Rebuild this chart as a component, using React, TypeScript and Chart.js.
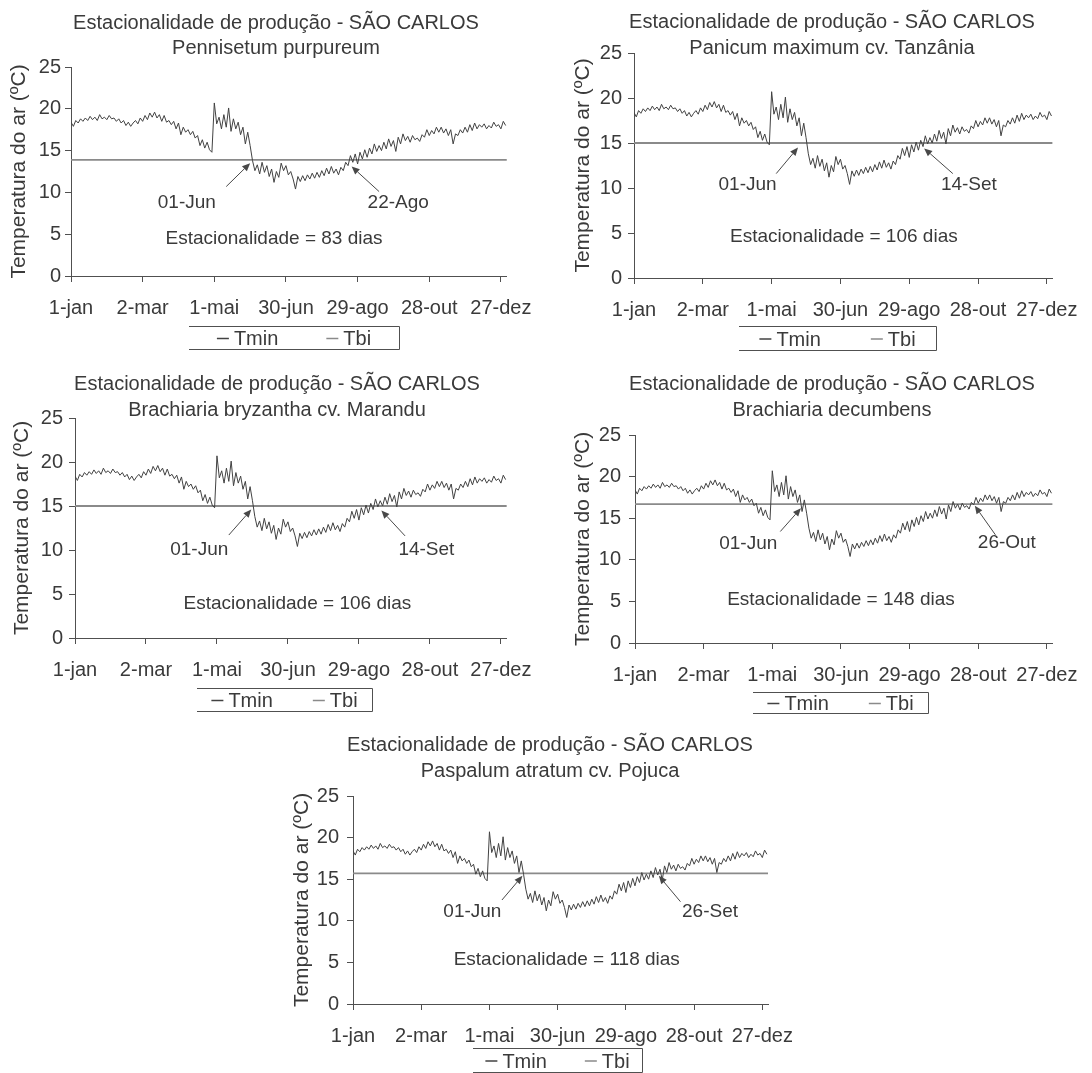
import React, { useEffect, useRef } from 'react';
import { Chart, registerables } from 'chart.js';

Chart.register(...registerables);

// ---------------- data ----------------
const tickDays = [0, 60, 120, 180, 240, 300, 360];
const tickLabels = ['1-jan', '2-mar', '1-mai', '30-jun', '29-ago', '28-out', '27-dez'];
const xMin = 0;
const xMax = 365;
const yMin = 0;
const yMax = 25;
const yStep = 5;
const sampleStep = 2; // days between readings of the Tmin curve

// Daily minimum air temperature (read every 2 days), °C
const tmin = [
  18.4, 17.9, 18.6, 18.3, 18.8, 18.5, 18.9, 18.6, 19.1, 18.7,
  19.0, 18.6, 19.3, 18.8, 19.0, 18.7, 19.2, 18.8, 18.9, 18.5,
  18.8, 18.3, 18.6, 18.0, 18.4, 17.9, 18.3, 18.6, 18.2, 18.9,
  18.5, 19.2, 18.7, 19.5, 19.0, 19.6, 18.9, 19.3, 18.5, 19.2,
  18.4, 18.6, 18.1, 18.5, 17.6, 18.3, 16.9, 17.8, 17.2, 17.5,
  16.9, 17.3, 16.5, 16.8, 15.6, 16.3, 15.3, 16.0, 15.1, 14.8,
  20.7, 18.2, 19.0, 17.6, 19.3, 17.8, 20.1, 17.3, 18.8, 17.6,
  18.4, 16.9, 17.8, 15.8, 17.2, 15.6, 13.8, 12.6, 13.3, 12.2,
  13.6, 12.4, 13.2, 11.9, 12.8, 11.2, 12.5, 11.8, 13.5, 12.6,
  13.2, 12.1, 12.5, 11.6, 10.4, 11.9, 11.3, 12.0, 11.4, 12.1,
  11.6, 12.3, 11.7, 12.4, 11.8, 12.6, 12.0, 12.9, 12.2, 13.1,
  12.3, 12.8, 12.1, 13.0, 12.6, 13.6, 13.2, 14.4, 13.6, 14.6,
  13.4, 14.8, 14.0, 15.1, 14.2, 15.3, 14.6, 15.8, 14.9, 15.6,
  15.0, 16.0, 15.2, 16.4, 15.5, 16.2, 14.9, 16.6, 15.8, 17.0,
  16.2, 16.7, 16.0, 16.8, 16.3, 16.5, 16.1, 16.9, 16.6, 17.5,
  16.8, 17.4, 17.0, 17.8, 17.2, 17.8, 17.1, 17.6, 16.8, 17.5,
  15.8, 17.0, 16.8, 17.5, 17.1, 17.8, 17.2, 18.1, 17.4, 18.3,
  17.6, 18.1, 17.8, 18.2, 17.6, 18.0, 17.7, 18.4, 17.9, 18.1,
  17.6, 18.5, 18.0,
];

const titleMain = 'Estacionalidade de produção - SÃO CARLOS';
const species = [
  'Pennisetum purpureum',
  'Panicum maximum cv. Tanzânia',
  'Brachiaria bryzantha cv. Marandu',
  'Brachiaria decumbens',
  'Paspalum atratum cv. Pojuca',
];
const tbi = [13.9, 15.0, 15.0, 16.7, 15.7];
const startDates = ['01-Jun', '01-Jun', '01-Jun', '01-Jun', '01-Jun'];
const endDates = ['22-Ago', '14-Set', '14-Set', '26-Out', '26-Set'];
const seasonDays = [83, 106, 106, 148, 118];
const seriesNames = ['Tmin', 'Tbi'];
const yTitle = 'Temperatura do ar (ºC)';

// ---------------- layout / style ----------------
const FONT = '"Liberation Sans", Arial, Helvetica, sans-serif';
const TEXT = '#3a3a3a';
const AXIS = '#505050';
const TMIN_COLOR = '#424242';
const TBI_COLOR = '#8a8a8a';

type Pt = [number, number];
type PanelLayout = {
  canvas: [number, number, number, number]; // left, top, width, height (page px)
  plot: [number, number, number, number]; // left, top, right, bottom (page px)
  yTitleX: number;
  tickPad: number;
  titleX: number;
  titleY: [number, number];
  legend: [number, number, number, number];
  legendGap: number;
  arrowStart: [Pt, Pt];
  arrowEnd: [Pt, Pt];
  startText: Pt;
  endText: Pt;
  seasonText: Pt;
};

const layouts: PanelLayout[] = [
  {
    canvas: [0, 0, 546, 355], plot: [71, 67, 508, 276], yTitleX: 19, tickPad: 4,
    titleX: 276, titleY: [23, 48], legend: [189, 326, 399, 349], legendGap: 48,
    arrowStart: [[130, 10.7], [150, 13.5]], arrowEnd: [[258, 10.1], [235, 13.1]],
    startText: [97, 8.8], endText: [274, 8.8], seasonText: [170, 4.4],
  },
  {
    canvas: [546, 0, 546, 355], plot: [634, 53, 1053, 278], yTitleX: 583, tickPad: 6,
    titleX: 832, titleY: [22, 48], legend: [739, 326, 936, 350], legendGap: 50,
    arrowStart: [[124, 11.6], [143, 14.5]], arrowEnd: [[278, 11.6], [253, 14.4]],
    startText: [99, 10.4], endText: [292, 10.4], seasonText: [183, 4.6],
  },
  {
    canvas: [0, 355, 546, 360], plot: [75, 418, 508, 638], yTitleX: 22, tickPad: 6,
    titleX: 277, titleY: [384, 410], legend: [197, 688, 372, 711], legendGap: 40,
    arrowStart: [[130, 11.7], [149, 14.6]], arrowEnd: [[279, 11.6], [259, 14.5]],
    startText: [105, 10.0], endText: [297, 10.0], seasonText: [188, 3.9],
  },
  {
    canvas: [546, 355, 546, 360], plot: [635, 435, 1054, 643], yTitleX: 583, tickPad: 8,
    titleX: 832, titleY: [384, 410], legend: [753, 692, 928, 713], legendGap: 40,
    arrowStart: [[127, 13.4], [145, 16.2]], arrowEnd: [[315, 13.0], [297, 16.5]],
    startText: [99, 11.9], endText: [325, 12.1], seasonText: [180, 5.2],
  },
  {
    canvas: [270, 715, 550, 358], plot: [353, 796, 768, 1004], yTitleX: 302, tickPad: 8,
    titleX: 550, titleY: [745, 771], legend: [473, 1048, 642, 1072], legendGap: 38,
    arrowStart: [[131, 12.5], [149, 15.4]], arrowEnd: [[288, 12.3], [269, 15.4]],
    startText: [105, 11.1], endText: [314, 11.1], seasonText: [188, 5.3],
  },
];

function drawArrow(ctx: CanvasRenderingContext2D, x1: number, y1: number, x2: number, y2: number) {
  const ang = Math.atan2(y2 - y1, x2 - x1);
  const len = 8;
  const hw = 3.5;
  const bx = x2 - len * Math.cos(ang);
  const by = y2 - len * Math.sin(ang);
  ctx.beginPath();
  ctx.moveTo(x1, y1);
  ctx.lineTo(bx, by);
  ctx.stroke();
  ctx.beginPath();
  ctx.moveTo(x2, y2);
  ctx.lineTo(bx + hw * Math.sin(ang), by - hw * Math.cos(ang));
  ctx.lineTo(bx - hw * Math.sin(ang), by + hw * Math.cos(ang));
  ctx.closePath();
  ctx.fill();
}

function PanelChart({ idx }: { idx: number }) {
  const ref = useRef<HTMLCanvasElement>(null);
  const p = layouts[idx];
  const [cl, ct, cw, ch] = p.canvas;

  useEffect(() => {
    if (!ref.current) return;
    const [pl, pt, pr, pb] = p.plot;
    const padL = 2;
    const yW = pl - cl - padL;
    const xH = 45;
    const padTop = pt - ct;
    const padBottom = ct + ch - pb - xH;
    const padRight = cl + cw - pr;
    const yTitleFont = 21;
    const yTitlePadTop = Math.max(0, p.yTitleX - cl - padL - (yTitleFont * 1.2) / 2);

    const tmPoints = tmin.map((v, i) => ({ x: i * sampleStep, y: v }));
    const tbPoints = [
      { x: xMin, y: tbi[idx] },
      { x: xMax, y: tbi[idx] },
    ];

    const decor = {
      id: 'decor' + idx,
      afterDraw(chart: any) {
        const ctx: CanvasRenderingContext2D = chart.ctx;
        const xs = chart.scales.x;
        const ys = chart.scales.y;
        const px = (d: number) => xs.getPixelForValue(d);
        const py = (v: number) => ys.getPixelForValue(v);
        ctx.save();
        ctx.fillStyle = TEXT;
        ctx.textAlign = 'center';
        ctx.textBaseline = 'middle';
        ctx.font = `20px ${FONT}`;
        ctx.fillText(titleMain, p.titleX - cl, p.titleY[0] - ct);
        ctx.fillText(species[idx], p.titleX - cl, p.titleY[1] - ct);

        ctx.font = `19px ${FONT}`;
        ctx.fillText(startDates[idx], px(p.startText[0]), py(p.startText[1]));
        ctx.fillText(endDates[idx], px(p.endText[0]), py(p.endText[1]));
        ctx.fillText(`Estacionalidade = ${seasonDays[idx]} dias`, px(p.seasonText[0]), py(p.seasonText[1]));

        ctx.strokeStyle = '#484848';
        ctx.fillStyle = '#484848';
        ctx.lineWidth = 1;
        for (const a of [p.arrowStart, p.arrowEnd]) {
          drawArrow(ctx, px(a[0][0]), py(a[0][1]), px(a[1][0]), py(a[1][1]));
        }

        // legend
        const [bx1, by1, bx2, by2] = p.legend;
        const lx1 = bx1 - cl, ly1 = by1 - ct, lx2 = bx2 - cl, ly2 = by2 - ct;
        ctx.strokeStyle = AXIS;
        ctx.lineWidth = 1;
        ctx.beginPath();
        ctx.moveTo(lx1, ly1 + 0.5);
        ctx.lineTo(lx2 + 0.5, ly1 + 0.5);
        ctx.lineTo(lx2 + 0.5, ly2 + 0.5);
        ctx.lineTo(lx1, ly2 + 0.5);
        ctx.stroke();

        ctx.font = `20px ${FONT}`;
        ctx.textAlign = 'left';
        const dashW = 12;
        const dashGap = 5;
        const items = chart.data.datasets.map((d: any) => ({
          label: d.label as string,
          color: d.borderColor as string,
          w: ctx.measureText(d.label).width + dashW + dashGap,
        }));
        const total = items.reduce((s: number, it: any) => s + it.w, 0) + p.legendGap * (items.length - 1);
        let x = (lx1 + lx2) / 2 - total / 2;
        const cy = (ly1 + ly2) / 2 + 1;
        for (const it of items) {
          ctx.strokeStyle = it.color;
          ctx.lineWidth = 1.5;
          ctx.beginPath();
          ctx.moveTo(x, cy);
          ctx.lineTo(x + dashW, cy);
          ctx.stroke();
          ctx.fillStyle = TEXT;
          ctx.fillText(it.label, x + dashW + dashGap, cy + 1);
          x += it.w + p.legendGap;
        }
        ctx.restore();
      },
    };

    const gridOpts = {
      display: true,
      drawOnChartArea: false,
      drawTicks: true,
      tickLength: 6,
      color: AXIS,
      lineWidth: 1,
    };
    const borderOpts = { display: true, color: AXIS, width: 1 };

    const chart = new Chart(ref.current, {
      type: 'line',
      data: {
        datasets: [
          {
            label: seriesNames[0],
            data: tmPoints,
            borderColor: TMIN_COLOR,
            backgroundColor: TMIN_COLOR,
            borderWidth: 1,
            pointRadius: 0,
            tension: 0,
            fill: false,
          },
          {
            label: seriesNames[1],
            data: tbPoints,
            borderColor: TBI_COLOR,
            backgroundColor: TBI_COLOR,
            borderWidth: 1.8,
            pointRadius: 0,
            tension: 0,
            fill: false,
          },
        ],
      },
      options: {
        animation: false,
        responsive: false,
        maintainAspectRatio: false,
        layout: { padding: { left: padL, top: padTop, right: padRight, bottom: padBottom } },
        plugins: {
          legend: { display: false },
          title: { display: false },
          tooltip: { enabled: false },
        },
        scales: {
          x: {
            type: 'linear',
            min: xMin,
            max: xMax,
            afterBuildTicks: (s: any) => {
              s.ticks = tickDays.map((v) => ({ value: v }));
            },
            afterFit: (s: any) => {
              s.height = xH;
            },
            ticks: {
              autoSkip: false,
              maxRotation: 0,
              minRotation: 0,
              padding: 14,
              color: TEXT,
              font: { family: FONT, size: 20 },
              callback: (v: any) => {
                const i = tickDays.indexOf(Number(v));
                return i >= 0 ? tickLabels[i] : '';
              },
            },
            grid: gridOpts,
            border: borderOpts,
          },
          y: {
            type: 'linear',
            min: yMin,
            max: yMax,
            afterFit: (s: any) => {
              s.width = yW;
            },
            ticks: {
              stepSize: yStep,
              padding: p.tickPad,
              color: TEXT,
              font: { family: FONT, size: 20 },
            },
            title: {
              display: true,
              text: yTitle,
              color: TEXT,
              font: { family: FONT, size: yTitleFont },
              padding: { top: yTitlePadTop, bottom: 0 },
            },
            grid: gridOpts,
            border: borderOpts,
          },
        },
      },
      plugins: [decor],
    } as any);
    return () => chart.destroy();
  }, [idx]);

  return (
    <canvas
      ref={ref}
      width={cw}
      height={ch}
      style={{ position: 'absolute', left: cl, top: ct, width: cw, height: ch }}
    />
  );
}

export default function App() {
  return (
    <div
      style={{
        position: 'absolute',
        left: 0,
        top: 0,
        width: 1092,
        height: 1073,
        overflow: 'hidden',
        background: '#ffffff',
      }}
    >
      {layouts.map((_, i) => (
        <PanelChart key={i} idx={i} />
      ))}
    </div>
  );
}
